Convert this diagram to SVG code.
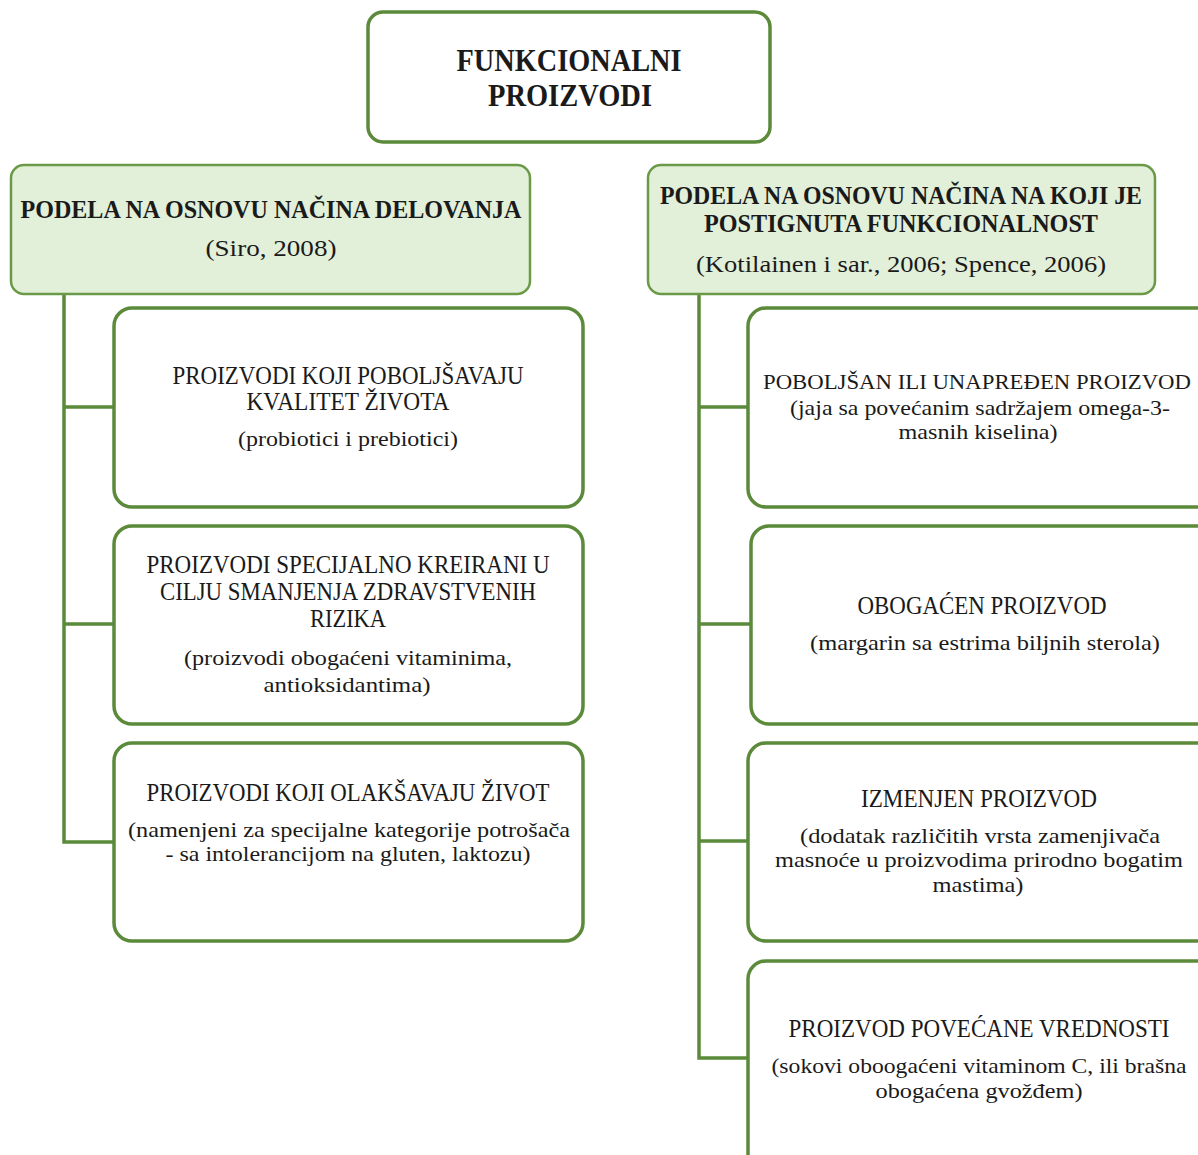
<svg xmlns="http://www.w3.org/2000/svg" width="1198" height="1155" viewBox="0 0 1198 1155">
<style>
.box{fill:#ffffff;stroke:#5b8a3a;stroke-width:3.5}
.hdr{fill:#e2efd9;stroke:#6a9a48;stroke-width:2.5}
.con{fill:none;stroke:#5b8a3a;stroke-width:3.5}
text{font-family:"Liberation Serif","DejaVu Serif",serif;fill:#1a1a1a;text-anchor:middle}
.t{font-size:31px;font-weight:bold}
.h{font-size:25px;font-weight:bold}
.c{font-size:23px}
.m{font-size:24.5px}
.s{font-size:22px}
</style>
<rect width="1198" height="1155" fill="#ffffff"/>
<g id="connectors">
<path class="con" d="M64 294 V842 H114 M64 407 H114 M64 624 H114"/>
<path class="con" d="M699 294 V1058 H748 M699 407 H748 M699 624 H751 M699 841 H748"/>
</g>
<g id="root">
<rect class="box" x="368" y="12" width="402" height="130" rx="15"/>
<text class="t" x="569" y="71" textLength="225" lengthAdjust="spacingAndGlyphs">FUNKCIONALNI</text>
<text class="t" x="570" y="106" textLength="164" lengthAdjust="spacingAndGlyphs">PROIZVODI</text>
</g>
<g id="left-header">
<rect class="hdr" x="11" y="165" width="519" height="129" rx="13"/>
<text class="h" x="271" y="218" textLength="501" lengthAdjust="spacingAndGlyphs">PODELA NA OSNOVU NAČINA DELOVANJA</text>
<text class="c" x="271" y="256" textLength="131" lengthAdjust="spacingAndGlyphs">(Siro, 2008)</text>
</g>
<g id="right-header">
<rect class="hdr" x="648" y="165" width="507" height="129" rx="13"/>
<text class="h" x="901" y="204" textLength="482" lengthAdjust="spacingAndGlyphs">PODELA NA OSNOVU NAČINA NA KOJI JE</text>
<text class="h" x="901" y="232" textLength="394" lengthAdjust="spacingAndGlyphs">POSTIGNUTA FUNKCIONALNOST</text>
<text class="c" x="901" y="272" textLength="410" lengthAdjust="spacingAndGlyphs">(Kotilainen i sar., 2006; Spence, 2006)</text>
</g>
<g id="left-1">
<rect class="box" x="114" y="308" width="469" height="199" rx="18"/>
<text class="m" x="348" y="384" textLength="351" lengthAdjust="spacingAndGlyphs">PROIZVODI KOJI POBOLJŠAVAJU</text>
<text class="m" x="348" y="410" textLength="203" lengthAdjust="spacingAndGlyphs">KVALITET ŽIVOTA</text>
<text class="s" x="348" y="446" textLength="220" lengthAdjust="spacingAndGlyphs">(probiotici i prebiotici)</text>
</g>
<g id="left-2">
<rect class="box" x="114" y="526" width="469" height="198" rx="18"/>
<text class="m" x="348" y="573" textLength="403" lengthAdjust="spacingAndGlyphs">PROIZVODI SPECIJALNO KREIRANI U</text>
<text class="m" x="348" y="600" textLength="376" lengthAdjust="spacingAndGlyphs">CILJU SMANJENJA ZDRAVSTVENIH</text>
<text class="m" x="348" y="627" textLength="76" lengthAdjust="spacingAndGlyphs">RIZIKA</text>
<text class="s" x="348" y="665" textLength="328" lengthAdjust="spacingAndGlyphs">(proizvodi obogaćeni vitaminima,</text>
<text class="s" x="347" y="692" textLength="167" lengthAdjust="spacingAndGlyphs">antioksidantima)</text>
</g>
<g id="left-3">
<rect class="box" x="114" y="743" width="469" height="198" rx="18"/>
<text class="m" x="348" y="801" textLength="403" lengthAdjust="spacingAndGlyphs">PROIZVODI KOJI OLAKŠAVAJU ŽIVOT</text>
<text class="s" x="349" y="837" textLength="442" lengthAdjust="spacingAndGlyphs">(namenjeni za specijalne kategorije potrošača</text>
<text class="s" x="348" y="861" textLength="365" lengthAdjust="spacingAndGlyphs">- sa intolerancijom na gluten, laktozu)</text>
</g>
<g id="right-1">
<rect class="box" x="748" y="308" width="470" height="199" rx="18"/>
<text x="977" y="389" font-size="22" textLength="428" lengthAdjust="spacingAndGlyphs">POBOLJŠAN ILI UNAPREĐEN PROIZVOD</text>
<text class="s" x="980" y="415" textLength="380" lengthAdjust="spacingAndGlyphs">(jaja sa povećanim sadržajem omega-3-</text>
<text class="s" x="978" y="439" textLength="159" lengthAdjust="spacingAndGlyphs">masnih kiselina)</text>
</g>
<g id="right-2">
<rect class="box" x="751" y="526" width="467" height="198" rx="18"/>
<text class="m" x="982" y="614" textLength="249" lengthAdjust="spacingAndGlyphs">OBOGAĆEN PROIZVOD</text>
<text class="s" x="985" y="650" textLength="350" lengthAdjust="spacingAndGlyphs">(margarin sa estrima biljnih sterola)</text>
</g>
<g id="right-3">
<rect class="box" x="748" y="743" width="470" height="198" rx="18"/>
<text class="m" x="979" y="807" textLength="236" lengthAdjust="spacingAndGlyphs">IZMENJEN PROIZVOD</text>
<text class="s" x="980" y="843" textLength="360" lengthAdjust="spacingAndGlyphs">(dodatak različitih vrsta zamenjivača</text>
<text class="s" x="979" y="867" textLength="408" lengthAdjust="spacingAndGlyphs">masnoće u proizvodima prirodno bogatim</text>
<text class="s" x="978" y="892" textLength="91" lengthAdjust="spacingAndGlyphs">mastima)</text>
</g>
<g id="right-4">
<rect class="box" x="748" y="961" width="470" height="220" rx="18"/>
<text class="m" x="979" y="1037" textLength="381" lengthAdjust="spacingAndGlyphs">PROIZVOD POVEĆANE VREDNOSTI</text>
<text class="s" x="979" y="1073" textLength="415" lengthAdjust="spacingAndGlyphs">(sokovi oboogaćeni vitaminom C, ili brašna</text>
<text class="s" x="979" y="1098" textLength="207" lengthAdjust="spacingAndGlyphs">obogaćena gvožđem)</text>
</g>
</svg>
